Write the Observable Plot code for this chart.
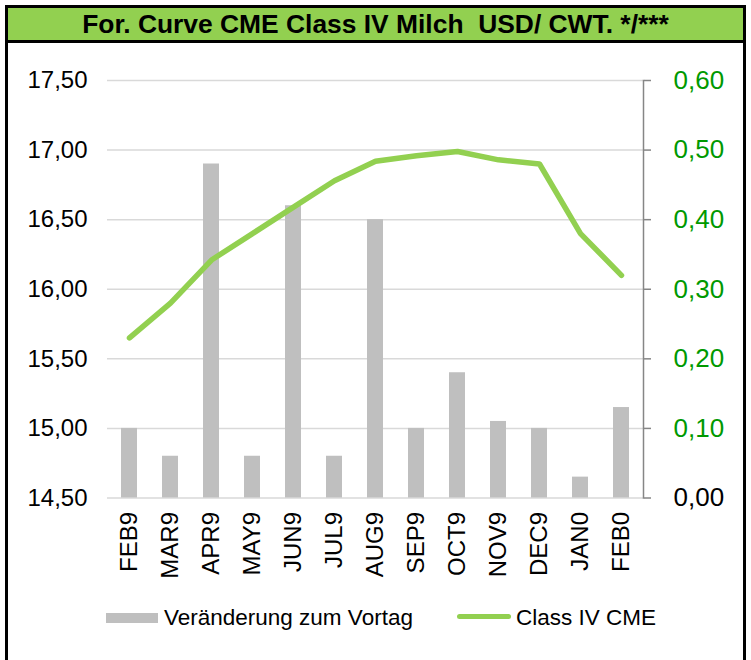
<!DOCTYPE html>
<html>
<head>
<meta charset="utf-8">
<script src="https://cdn.jsdelivr.net/npm/d3@7"></script>
<script src="https://cdn.jsdelivr.net/npm/@observablehq/plot@0.6"></script>
<style>
  html, body { margin: 0; padding: 0; background: #fff; }
  body { width: 751px; height: 660px; position: relative; overflow: hidden; font-family: "Liberation Sans", Arial, sans-serif; }
  #frame { position: absolute; left: 5px; top: 30px; width: 735px; height: 700px; border-left: 3px solid #000; border-right: 3px solid #000; }
  #title { position: absolute; left: 5px; top: 5px; width: 735px; height: 32px; background: #92D050; border: 3px solid #000; display: flex; align-items: center; justify-content: center; }
  #title span { font-weight: bold; font-size: 26.4px; color: #000; display: inline-block; white-space: pre; }
  #chart { position: absolute; left: 0; top: 43px; }
  #legend { position: absolute; left: 0; top: 604px; width: 751px; height: 28px; font-size: 22.5px; color: #000; }
  .sw1 { position: absolute; left: 106px; top: 9px; width: 52px; height: 10px; background: #bfbfbf; }
  .lb1 { position: absolute; left: 164px; top: 0px; line-height: 28px; }
  .sw2 { position: absolute; left: 457px; top: 10px; width: 54px; height: 5px; background: #92D050; border-radius: 3px; }
  .lb2 { position: absolute; left: 516px; top: 0px; line-height: 28px; }
</style>
</head>
<body>
<div id="frame"></div>
<div id="title"><span>For. Curve CME Class IV Milch  USD/ CWT. */***</span></div>
<div id="chart"></div>
<div id="legend">
  <div class="sw1"></div><div class="lb1">Veränderung zum Vortag</div>
  <div class="sw2"></div><div class="lb2">Class IV CME</div>
</div>
<script>
const categories = ["FEB9","MAR9","APR9","MAY9","JUN9","JUL9","AUG9","SEP9","OCT9","NOV9","DEC9","JAN0","FEB0"];
const changeVsPrevDay = [0.10,0.06,0.48,0.06,0.42,0.06,0.40,0.10,0.18,0.11,0.10,0.03,0.13];
const classIV = [15.65,15.90,16.21,16.40,16.59,16.78,16.92,16.96,16.99,16.93,16.90,16.40,16.10];
const leftTicks = [14.5,15.0,15.5,16.0,16.5,17.0,17.5];
const rightTicks = [0.0,0.1,0.2,0.3,0.4,0.5,0.6];

// right axis (0–0.60) mapped onto left axis domain (14.50–17.50)
const lo = 14.5, k = (17.5 - 14.5) / 0.6;
const toLeft = v => lo + v * k;
const fmt = v => v.toFixed(2).replace(".", ",");

const rows = categories.map((c, i) => ({cat: c, change: changeVsPrevDay[i], price: classIV[i]}));

const chart = Plot.plot({
  width: 751,
  height: 545,
  marginTop: 37,
  marginBottom: 90.5,
  marginLeft: 107,
  marginRight: 108,
  style: {fontFamily: "'Liberation Sans', Arial, sans-serif", fontSize: "24px", color: "#000", background: "transparent"},
  x: {type: "band", domain: categories, paddingInner: 0.6, paddingOuter: 0.3, label: null},
  y: {domain: [14.5, 17.5], label: null},
  marks: [
    Plot.gridY(leftTicks, {stroke: "#d9d9d9", strokeOpacity: 1, strokeWidth: 1.5}),
    Plot.barY(rows, {x: "cat", y1: lo, y2: d => toLeft(d.change), fill: "#bfbfbf"}),
    Plot.lineY(rows, {x: "cat", y: "price", stroke: "#92D050", strokeWidth: 5.5, strokeLinecap: "round", strokeLinejoin: "round"}),
    Plot.axisY(leftTicks, {anchor: "left", tickSize: 0, tickPadding: 20, tickFormat: fmt, fill: "#000", label: null}),
    Plot.frame({anchor: "right", stroke: "#868686", strokeWidth: 1.5}),
    Plot.axisY(rightTicks.filter(v => v > 0).map(toLeft), {anchor: "right", tickSize: 7, tickPadding: 23, strokeWidth: 1.5,
      stroke: "#868686", fill: "#009900", fontSize: 26, tickFormat: d => fmt((d - lo) / k), label: null}),
    Plot.axisY([toLeft(0)], {anchor: "right", tickSize: 7, tickPadding: 23, strokeWidth: 1.5,
      stroke: "#868686", fill: "#000", fontSize: 26, tickFormat: d => fmt((d - lo) / k), label: null}),
    Plot.axisX({tickSize: 0, tickPadding: 14, tickRotate: -90, fill: "#000", label: null})
  ]
});
document.getElementById("chart").appendChild(chart);
</script>
</body>
</html>
